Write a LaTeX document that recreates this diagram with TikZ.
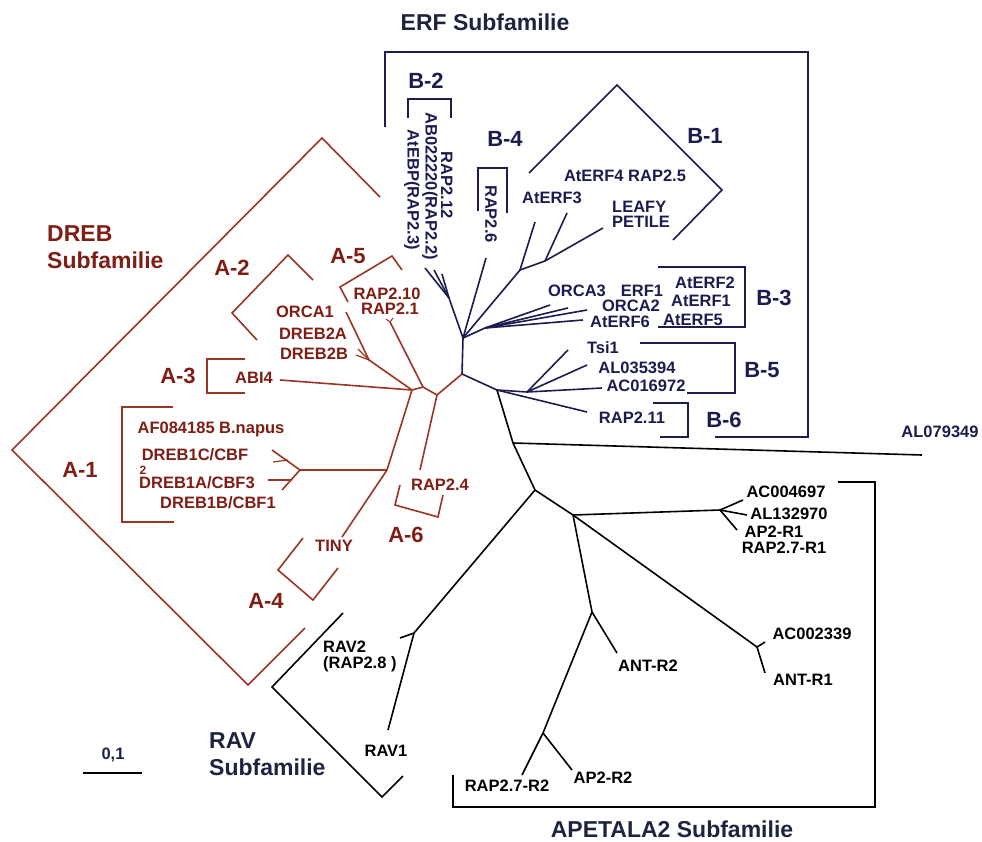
\documentclass[tikz,border=0pt]{standalone}
\usepackage{fontspec}
\setmainfont{Liberation Sans}
\definecolor{dreb}{HTML}{9A3524}
\definecolor{drebtxt}{HTML}{7E1E14}
\definecolor{erf}{HTML}{1C1C50}
\definecolor{ttl}{HTML}{1E2440}
\begin{document}
\begin{tikzpicture}[x=1pt,y=-1pt,
  br/.style={line width=1.6pt, line join=miter},
  rl/.style={br, draw=dreb},
  nl/.style={br, draw=erf},
  kl/.style={br, draw=black},
  lf/.style={font=\fontsize{16.5}{16}\selectfont\bfseries, inner sep=0pt},
  grp/.style={font=\fontsize{22}{22}\selectfont\bfseries, inner sep=0pt},
  ttlf/.style={font=\fontsize{23}{28}\selectfont\bfseries, inner sep=0pt, align=left, anchor=west},
]
\useasboundingbox (0,0) rectangle (982,841);
\fill[white] (0,0) rectangle (982,841);

% ---------- coordinates ----------
\coordinate (C) at (462,374);
\coordinate (E) at (463,338);
\coordinate (B2n) at (449,298);
\coordinate (b2a) at (425,268);
\coordinate (b2b) at (434,270);
\coordinate (b2c) at (442,274);
\coordinate (r26) at (486,258);
\coordinate (B3n) at (485,328);
\coordinate (b3a) at (550,305);
\coordinate (b3b) at (568,308);
\coordinate (b3c) at (587,310);
\coordinate (b3d) at (583,320);
\coordinate (B1n) at (520,270);
\coordinate (b1a) at (535,222);
\coordinate (B1m) at (545,261);
\coordinate (b1b) at (567,213);
\coordinate (b1c) at (603,228);
\coordinate (F) at (497,390);
\coordinate (B5n) at (527,392);
\coordinate (b5a) at (568,350);
\coordinate (b5b) at (587,365);
\coordinate (b5c) at (602,388);
\coordinate (b6) at (587,412);
\coordinate (M) at (513,443);
\coordinate (al) at (922,455);
\coordinate (G) at (535,490);
\coordinate (R) at (414,633);
\coordinate (rav2) at (400,638);
\coordinate (rav1) at (388,730);
\coordinate (H) at (573,515);
\coordinate (APn) at (720,510);
\coordinate (ap1) at (743,500);
\coordinate (ap2) at (747,515);
\coordinate (ap3) at (737,530);
\coordinate (K) at (757,647);
\coordinate (k1) at (765,642);
\coordinate (k2) at (765,673);
\coordinate (J) at (592,612);
\coordinate (antr2) at (617,653);
\coordinate (L) at (543,733);
\coordinate (l1) at (522,775);
\coordinate (l2) at (572,770);
% DREB
\coordinate (D0) at (437,395);
\coordinate (D2) at (423,387);
\coordinate (D1) at (412,390);
\coordinate (a5) at (390,322);
\coordinate (a5a) at (386,319);
\coordinate (a5b) at (393,318);
\coordinate (A2n) at (369,360);
\coordinate (a2a) at (346,312);
\coordinate (a2b) at (356,355);
\coordinate (a2c) at (358,349);
\coordinate (abi) at (280,380);
\coordinate (T) at (387,470);
\coordinate (A1f) at (300,470);
\coordinate (a1a) at (272,450);
\coordinate (a1b) at (282,490);
\coordinate (a1c) at (273,462);
\coordinate (a1cc) at (288,460);
\coordinate (a1d) at (268,480);
\coordinate (a1dd) at (291,480);
\coordinate (tiny) at (342,537);
\coordinate (r24) at (420,470);

% ---------- ERF tree ----------
\draw[nl] (C) -- (E);
\draw[nl] (E) -- (B2n);
\draw[nl] (B2n) -- (b2a);
\draw[nl] (B2n) -- (b2b);
\draw[nl] (B2n) -- (b2c);
\draw[nl] (E) -- (r26);
\draw[nl] (E) -- (B3n);
\draw[nl] (B3n) -- (b3a);
\draw[nl] (B3n) -- (b3b);
\draw[nl] (B3n) -- (b3c);
\draw[nl] (B3n) -- (b3d);
\draw[nl] (E) -- (B1n);
\draw[nl] (B1n) -- (b1a);
\draw[nl] (B1n) -- (B1m);
\draw[nl] (B1m) -- (b1b);
\draw[nl] (B1m) -- (b1c);
\draw[nl] (C) -- (F);
\draw[nl] (F) -- (B5n);
\draw[nl] (B5n) -- (b5a);
\draw[nl] (B5n) -- (b5b);
\draw[nl] (B5n) -- (b5c);
\draw[nl] (F) -- (b6);

% ---------- black tree ----------
\draw[kl] (F) -- (M);
\draw[kl] (M) -- (al);
\draw[kl] (M) -- (G);
\draw[kl] (G) -- (R);
\draw[kl] (R) -- (rav2);
\draw[kl] (R) -- (rav1);
\draw[kl] (G) -- (H);
\draw[kl] (H) -- (APn);
\draw[kl] (APn) -- (ap1);
\draw[kl] (APn) -- (ap2);
\draw[kl] (APn) -- (ap3);
\draw[kl] (H) -- (K);
\draw[kl] (K) -- (k1);
\draw[kl] (K) -- (k2);
\draw[kl] (H) -- (J);
\draw[kl] (J) -- (antr2);
\draw[kl] (J) -- (L);
\draw[kl] (L) -- (l1);
\draw[kl] (L) -- (l2);

% ---------- DREB tree ----------
\draw[rl] (C) -- (D0);
\draw[rl] (D0) -- (D2);
\draw[rl] (D2) -- (D1);
\draw[rl] (D2) -- (a5);
\draw[rl,line width=1pt] (a5) -- (a5a);
\draw[rl,line width=1pt] (a5) -- (a5b);
\draw[rl] (D1) -- (A2n);
\draw[rl] (A2n) -- (a2a);
\draw[rl,line width=1.2pt] (A2n) -- (a2b);
\draw[rl,line width=1.2pt] (A2n) -- (a2c);
\draw[rl] (D1) -- (abi);
\draw[rl] (D1) -- (T);
\draw[rl] (T) -- (A1f);
\draw[rl] (A1f) -- (a1a);
\draw[rl] (A1f) -- (a1b);
\draw[rl,line width=1.2pt] (a1c) -- (a1cc);
\draw[rl,line width=1.2pt] (a1d) -- (a1dd);
\draw[rl] (T) -- (tiny);
\draw[rl] (D0) -- (r24);

% ---------- brackets ----------
% ERF box
\draw[nl] (385,127) -- (385,52) -- (808,52) -- (808,437) -- (715,437);
\draw[nl] (408,118) -- (408,99) -- (451,99) -- (451,118);     % B-2
\draw[nl] (478,211) -- (478,168) -- (507,168) -- (507,213);   % B-4
\draw[nl] (529,173) -- (617,85) -- (722,190) -- (673,240);    % B-1
\draw[nl] (658,267) -- (745,267) -- (745,327) -- (658,327);   % B-3
\draw[nl] (640,343) -- (735,343) -- (735,393) -- (687,393);   % B-5
\draw[nl] (653,403) -- (688,403) -- (688,437) -- (660,437);   % B-6
% DREB
\draw[rl] (380,197) -- (322,138) -- (12,450) -- (248,685) -- (305,628);
\draw[rl] (313,280) -- (288,255) -- (232,313) -- (257,340);   % A-2
\draw[rl] (348,302) -- (340,287) -- (392,256) -- (402,270);   % A-5
\draw[rl] (245,359) -- (207,359) -- (207,393) -- (245,393);   % A-3
\draw[rl] (173,407) -- (122,407) -- (122,522) -- (174,522);   % A-1
\draw[rl] (303,538) -- (278,570) -- (313,600) -- (338,568);   % A-4
\draw[rl] (400,485) -- (395,505) -- (438,517) -- (443,495);   % A-6
% RAV
\draw[kl] (343,613) -- (272,687) -- (382,797) -- (403,776);
% APETALA2
\draw[kl] (838,482) -- (875,482) -- (875,807) -- (453,807) -- (453,775);
% scale bar
\draw[kl,line width=1.3pt] (83,773) -- (142,773);

% ---------- titles ----------
\node[ttlf, text=ttl, anchor=center] (tERF) at (485,22) {ERF Subfamilie};
\node[ttlf, text=drebtxt] (tDREB) at (47,247) {DREB\\[-1pt]Subfamilie};
\node[ttlf, text=ttl] (tRAV) at (209,754) {RAV\\[-1pt]Subfamilie};
\node[ttlf, text=ttl, anchor=center] (tAP) at (672,829) {APETALA2 Subfamilie};
\node[lf, text=ttl] (scale) at (113,755) {0,1};

% ---------- ERF labels ----------
\begin{scope}[every node/.append style={text=erf}]
\node[grp] (gB2) at (426,81) {B-2};
\node[grp] (gB4) at (505,139) {B-4};
\node[grp] (gB1) at (705,136) {B-1};
\node[grp] (gB3) at (774,298) {B-3};
\node[grp] (gB5) at (762,370) {B-5};
\node[grp] (gB6) at (724,420) {B-6};
\node[lf, rotate=-90] (rap212) at (447,185) {RAP2.12};
\node[lf, rotate=-90] (ab02) at (430,186) {AB022220(RAP2.2)};
\node[lf, rotate=-90] (atebp) at (412,190) {AtEBP(RAP2.3)};
\node[lf, rotate=-90] (rap26) at (491,214) {RAP2.6};
\node[lf] (aterf4) at (625,176) {AtERF4 RAP2.5};
\node[lf] (aterf3) at (552,198) {AtERF3};
\node[lf, align=left, anchor=west, font=\fontsize{16.5}{15}\selectfont\bfseries] (leafy) at (612,214.5) {LEAFY\\PETILE};
\node[lf] (orca3) at (577,291) {ORCA3};
\node[lf] (erf1) at (642,291) {ERF1};
\node[lf] (orca2) at (631,306) {ORCA2};
\node[lf] (aterf6) at (620,322) {AtERF6};
\node[lf] (aterf2) at (705,283) {AtERF2};
\node[lf] (aterf1) at (701,301) {AtERF1};
\node[lf] (aterf5) at (693,320) {AtERF5};
\node[lf] (tsi1) at (603,348) {Tsi1};
\node[lf] (al035) at (637,368) {AL035394};
\node[lf] (ac016) at (646,386) {AC016972};
\node[lf] (rap211) at (632,418) {RAP2.11};
\node[lf] (al079) at (940,432) {AL079349};
\end{scope}

% ---------- black labels ----------
\node[lf] (ac004) at (786,492) {AC004697};
\node[lf] (al132) at (789,514) {AL132970};
\node[lf] (ap2r1) at (774,532) {AP2-R1};
\node[lf] (rap27r1) at (784,548) {RAP2.7-R1};
\node[lf] (ac002) at (812,634) {AC002339};
\node[lf] (antr1) at (803,680) {ANT-R1};
\node[lf] (antr2l) at (648,666) {ANT-R2};
\node[lf] (ap2r2) at (603,778) {AP2-R2};
\node[lf] (rap27r2) at (507,786) {RAP2.7-R2};
\node[lf, align=left, anchor=west, font=\fontsize{16.5}{16}\selectfont\bfseries] (rav2l) at (323,656) {RAV2\\(RAP2.8 )};
\node[lf] (rav1l) at (386,751) {RAV1};

% ---------- DREB labels ----------
\begin{scope}[every node/.append style={text=drebtxt}]
\node[grp] (gA2) at (232,268) {A-2};
\node[grp] (gA5) at (348,256) {A-5};
\node[grp] (gA3) at (178,376) {A-3};
\node[grp] (gA1) at (80,470) {A-1};
\node[grp] (gA4) at (266,601) {A-4};
\node[grp] (gA6) at (406,535) {A-6};
\node[lf] (rap210) at (387,294) {RAP2.10};
\node[lf] (rap21) at (390,309) {RAP2.1};
\node[lf] (orca1) at (305,312) {ORCA1};
\node[lf] (dreb2a) at (313,334) {DREB2A};
\node[lf] (dreb2b) at (314,354) {DREB2B};
\node[lf] (abi4) at (254,378) {ABI4};
\node[lf] (af08) at (211,429) {AF084185 B.napus};
\node[lf] (dreb1c) at (195,455) {DREB1C/CBF};
\node[lf, font=\fontsize{12}{12}\selectfont\bfseries] (two) at (143,470.5) {2};
\node[lf] (dreb1a) at (197,483) {DREB1A/CBF3};
\node[lf] (dreb1b) at (218,503) {DREB1B/CBF1};
\node[lf] (tinyl) at (334,546) {TINY};
\node[lf] (rap24) at (440,485) {RAP2.4};
\end{scope}
\end{tikzpicture}
\end{document}
